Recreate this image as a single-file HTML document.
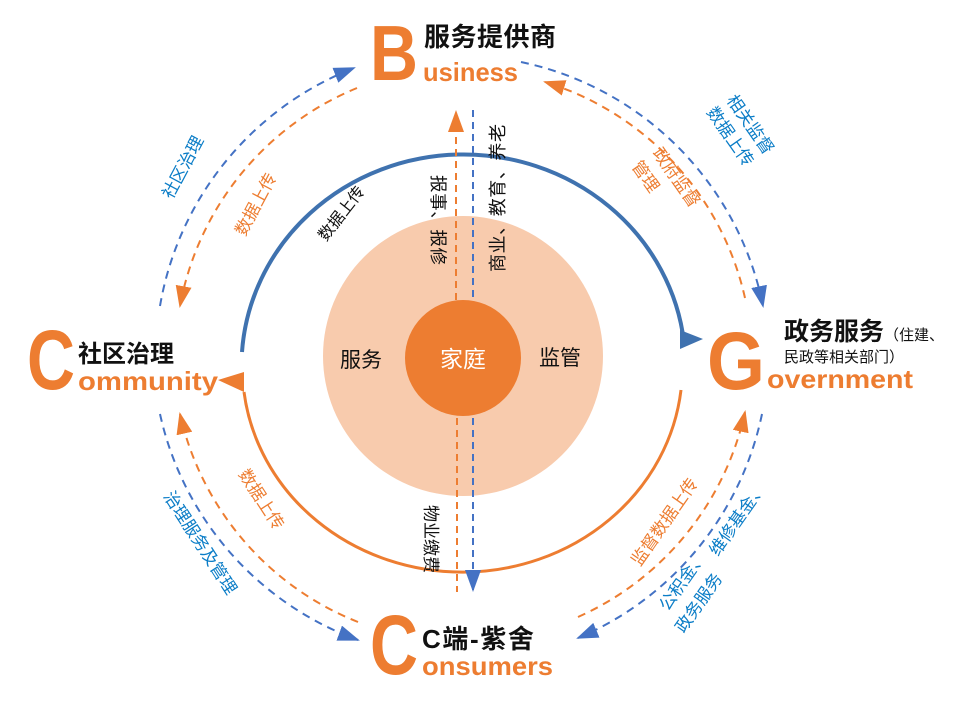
<!DOCTYPE html>
<html><head><meta charset="utf-8"><style>
html,body{margin:0;padding:0;background:#fff;width:957px;height:706px;overflow:hidden}
svg text{font-family:"Liberation Sans","Noto Sans CJK SC",sans-serif}
</style></head><body>
<svg width="957" height="706" viewBox="0 0 957 706" xmlns="http://www.w3.org/2000/svg">
<defs>
<marker id="abL" markerWidth="22" markerHeight="16" refX="20" refY="8" orient="auto" markerUnits="userSpaceOnUse" viewBox="0 0 22 16"><path d="M0,0 L22,8 L0,16 Z" fill="#4472c4"/></marker>
<marker id="aoL" markerWidth="22" markerHeight="16" refX="20" refY="8" orient="auto" markerUnits="userSpaceOnUse" viewBox="0 0 22 16"><path d="M0,0 L22,8 L0,16 Z" fill="#ed7d31"/></marker>
</defs>

<circle cx="463" cy="356" r="140" fill="#f8cbad"/>
<circle cx="463" cy="358" r="58" fill="#ed7d31"/>

<!-- main ring -->
<path d="M242,352 A222,212 0 0 1 684,342" fill="none" stroke="#3f72af" stroke-width="4"/>
<path d="M680,330 L703,339 L680,349 Z" fill="#3f72af"/>
<path d="M681,390 A220,205 0 0 1 244,392" fill="none" stroke="#ed7d31" stroke-width="3"/>
<path d="M244,372 L218,380 L244,392 Z" fill="#ed7d31"/>

<!-- vertical dashed -->
<line x1="456" y1="300" x2="456" y2="112" stroke="#ed7d31" stroke-width="2" stroke-dasharray="7,5" marker-end="url(#aoL)"/>
<line x1="473" y1="110" x2="473" y2="300" stroke="#4472c4" stroke-width="2" stroke-dasharray="7,5"/>
<line x1="457" y1="418" x2="457" y2="592" stroke="#ed7d31" stroke-width="2" stroke-dasharray="7,5"/>
<line x1="473" y1="418" x2="473" y2="590" stroke="#4472c4" stroke-width="2" stroke-dasharray="7,5" marker-end="url(#abL)"/>

<!-- outer dashed arcs -->
<g fill="none" stroke-width="2" stroke-dasharray="8,6">
<path d="M160,306 A312,312 0 0 1 354,68" stroke="#4472c4" marker-end="url(#abL)"/>
<path d="M357,88 A293,293 0 0 0 180,306" stroke="#ed7d31" marker-end="url(#aoL)"/>
<path d="M521,62 A312,312 0 0 1 763,306" stroke="#4472c4" marker-end="url(#abL)"/>
<path d="M745,298 A293,293 0 0 0 545,82" stroke="#ed7d31" marker-end="url(#aoL)"/>
<path d="M160,414 A312,312 0 0 0 358,640" stroke="#4472c4" marker-end="url(#abL)"/>
<path d="M358,622 A293,293 0 0 1 180,414" stroke="#ed7d31" marker-end="url(#aoL)"/>
<path d="M578,617 A293,293 0 0 0 745,412" stroke="#ed7d31" marker-end="url(#aoL)"/>
<path d="M762,414 A312,312 0 0 1 578,638" stroke="#4472c4" marker-end="url(#abL)"/>
</g>

<!-- center labels -->
<text x="361" y="367" font-size="21" text-anchor="middle" fill="#111">服务</text>
<text x="560" y="365" font-size="21" text-anchor="middle" fill="#111">监管</text>
<text x="463" y="367" font-size="23" text-anchor="middle" fill="#fff">家庭</text>
<text transform="translate(432,175) rotate(90)" font-size="17.5" fill="#111" textLength="90">报事、报修</text>
<text transform="translate(504,272) rotate(-90)" font-size="18" fill="#111" textLength="148">商业、教育、养老</text>
<text transform="translate(425,505) rotate(90)" font-size="17" fill="#111">物业缴费</text>
<text transform="translate(326,242) rotate(-52)" font-size="16" fill="#111">数据上传</text>

<!-- node labels -->
<text x="370" y="80" font-size="78" font-weight="bold" fill="#ed7d31" textLength="48" lengthAdjust="spacingAndGlyphs">B</text>
<text x="424" y="46" font-size="26" font-weight="bold" fill="#111" textLength="132">服务提供商</text>
<text x="423" y="81" font-size="26" font-weight="bold" fill="#ed7d31" textLength="95" lengthAdjust="spacingAndGlyphs">usiness</text>

<text x="707" y="389" font-size="82" font-weight="bold" fill="#ed7d31" textLength="58" lengthAdjust="spacingAndGlyphs">G</text>
<text x="784" y="340" font-size="25" font-weight="bold" fill="#111">政务服务<tspan font-size="15" font-weight="normal">（住建、</tspan></text>
<text x="784" y="362" font-size="15" fill="#111">民政等相关部门）</text>
<text x="767" y="388" font-size="26" font-weight="bold" fill="#ed7d31" textLength="146" lengthAdjust="spacingAndGlyphs">overnment</text>

<text x="27" y="389" font-size="84" font-weight="bold" fill="#ed7d31" textLength="48" lengthAdjust="spacingAndGlyphs">C</text>
<text x="78" y="362" font-size="24" font-weight="bold" fill="#111">社区治理</text>
<text x="78" y="390" font-size="26" font-weight="bold" fill="#ed7d31" textLength="140" lengthAdjust="spacingAndGlyphs">ommunity</text>

<text x="370" y="674" font-size="84" font-weight="bold" fill="#ed7d31" textLength="48" lengthAdjust="spacingAndGlyphs">C</text>
<text x="422" y="648" font-size="26" font-weight="bold" fill="#111" textLength="112">C端-紫舍</text>
<text x="422" y="675" font-size="26" font-weight="bold" fill="#ed7d31" textLength="131" lengthAdjust="spacingAndGlyphs">onsumers</text>

<!-- arc labels -->
<text transform="translate(172,200) rotate(-62)" font-size="17" fill="#0b7dc7">社区治理</text>
<text transform="translate(245,237) rotate(-62)" font-size="17" fill="#ed7d31">数据上传</text>
<text transform="translate(726,100) rotate(55)" font-size="17" fill="#0b7dc7">相关监督</text>
<text transform="translate(706,112) rotate(55)" font-size="17" fill="#0b7dc7">数据上传</text>
<text transform="translate(652,153) rotate(55)" font-size="17" fill="#ed7d31">政府监督</text>
<text transform="translate(631,166) rotate(55)" font-size="17" fill="#ed7d31">管理</text>
<text transform="translate(163,496) rotate(57)" font-size="17" fill="#0b7dc7">治理服务及管理</text>
<text transform="translate(238,474) rotate(57)" font-size="17" fill="#ed7d31">数据上传</text>
<text transform="translate(640,567) rotate(-55)" font-size="17" fill="#ed7d31">监督数据上传</text>
<text transform="translate(718,557) rotate(-55)" font-size="17" fill="#0b7dc7">维修基金、</text>
<text transform="translate(668,612) rotate(-55)" font-size="17" fill="#0b7dc7">公积金、</text>
<text transform="translate(684,634) rotate(-55)" font-size="17" fill="#0b7dc7">政务服务</text>
</svg>
</body></html>
